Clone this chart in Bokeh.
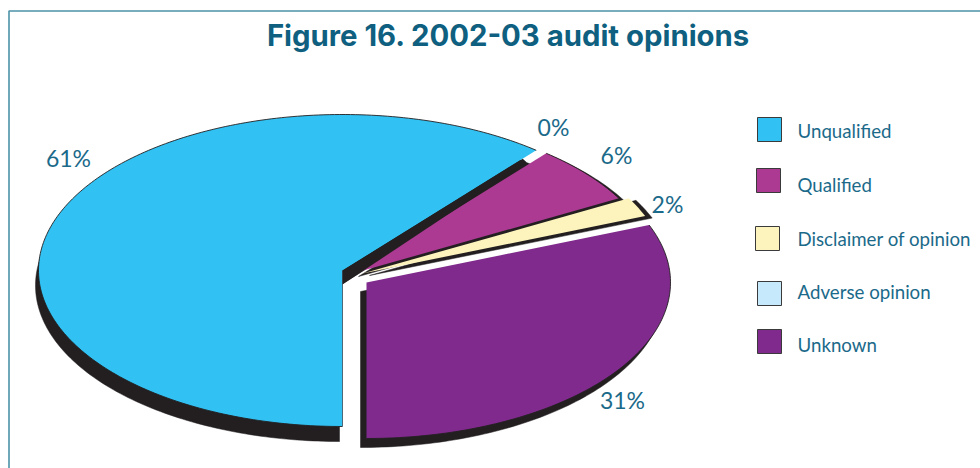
import math

from bokeh.core.properties import value
from bokeh.embed import file_html
from bokeh.models import Range1d
from bokeh.plotting import figure
from bokeh.resources import INLINE

# Audit opinion shares, in percent
categories = ["Unqualified", "Qualified", "Disclaimer of opinion", "Adverse opinion", "Unknown"]
shares = [61, 6, 2, 0, 31]
colors = ["#31c2f3", "#ac3a93", "#fdf4bd", "#c6e9fb", "#7f2a8c"]
title = "Figure 16. 2002-03 audit opinions"

INK = "#231f20"
TEXT = "#1b6a8a"
RX, RY = 304, 156

# Each slice's exploded centre and the offset of its drop shadow, in page pixels
centres = {"Unqualified": (342, 270), "Qualified": (352, 273), "Disclaimer of opinion": (362, 273), "Unknown": (366, 282)}
shadows = {"Unqualified": (-3, 15), "Qualified": (6, 3), "Disclaimer of opinion": (7, 2), "Unknown": (-6, 9)}

# Slices run counter-clockwise from straight down: Unknown, Disclaimer, Adverse, Qualified, Unqualified
order = ["Unknown", "Disclaimer of opinion", "Adverse opinion", "Qualified", "Unqualified"]
share_of = dict(zip(categories, shares))
color_of = dict(zip(categories, colors))
angles = {}
start = 270.0
for name in order:
    end = start + share_of[name] * 3.6
    angles[name] = (start, end)
    start = end


def arc(name, dx=0, dy=0):
    cx, cy = centres[name]
    a0, a1 = angles[name]
    steps = max(int(a1 - a0), 2)
    ts = [math.radians(a0 + (a1 - a0) * i / steps) for i in range(steps + 1)]
    return [cx + dx + RX * math.cos(t) for t in ts], [cy + dy - RY * math.sin(t) for t in ts]


def wedge(name, dx=0, dy=0):
    cx, cy = centres[name]
    xs, ys = arc(name, dx, dy)
    return [cx + dx] + xs + [cx + dx], [cy + dy] + ys + [cy + dy]


p = figure(width=980, height=468, x_range=Range1d(0, 980), y_range=Range1d(468, 0),
           output_backend="svg", toolbar_location=None, min_border=0,
           outline_line_color=None, background_fill_color="white", border_fill_color="white")
p.axis.visible = False
p.grid.visible = False

# Frame, open towards the right and bottom of the page
p.line([8.5, 8.5, 980], [468, 10.5, 10.5], line_color="#4b93a8", line_width=1.6)

for name in ["Unqualified", "Qualified", "Disclaimer of opinion", "Unknown"]:
    dx, dy = shadows[name]
    xs, ys = wedge(name, dx, dy)
    p.patch(xs, ys, fill_color=INK, line_color=INK, line_width=0.5)
    xs, ys = wedge(name)
    p.patch(xs, ys, fill_color=color_of[name], line_color=None)
    if name != "Disclaimer of opinion":
        xs, ys = arc(name)
        p.line(xs, ys, line_color=INK, line_width=0.9)
    if name == "Unqualified":
        # Straight side of the large slice keeps a hairline edge
        cx, cy = centres[name]
        p.line([cx, cx], [cy, cy + RY], line_color="#4a6a7a", line_width=1)
    if name == "Qualified":
        # Dark sliver left by the empty Adverse slice, running along the top slice edge
        cx, cy = centres["Unqualified"]
        t = math.radians(angles["Unqualified"][0])
        ex, ey = RX * math.cos(t), RY * math.sin(t)
        p.patch([cx, cx + 0.93 * ex, cx + 0.95 * ex, cx],
                [cy, cy - 0.93 * ey, cy - 0.90 * ey, cy + 14],
                fill_color=INK, line_color=None)

# Percentage labels, one per category
label_x = [68, 616, 667, 553, 622]
label_y = [157, 154, 203, 126, 399]
p.text(label_x, label_y, text=[f"{s}%" for s in shares], text_align="center", text_baseline="middle",
       text_color=TEXT, text_font=value("Lato"), text_font_size="23px")

# Legend
swatch_x = [757, 756, 755, 757, 757]
swatch_y = [117, 168, 226, 281, 329]
p.quad(left=swatch_x, right=[x + 24 for x in swatch_x], top=swatch_y, bottom=[y + 24 for y in swatch_y],
       fill_color=colors, line_color="#3a3a3a", line_width=1)
legend_y = [130, 184, 238, 291, 344]
p.text([797] * 5, legend_y, text=categories, text_align="left", text_baseline="middle",
       text_color=TEXT, text_font=value("Lato"), text_font_size="18.7px")

# Chart heading
p.text([508], [35], text=[title], text_align="center", text_baseline="middle",
       text_color="#0e5f80", text_font=value("Inter"), text_font_style="bold", text_font_size="29.3px")

open("out.html", "w").write(file_html(p, INLINE))
